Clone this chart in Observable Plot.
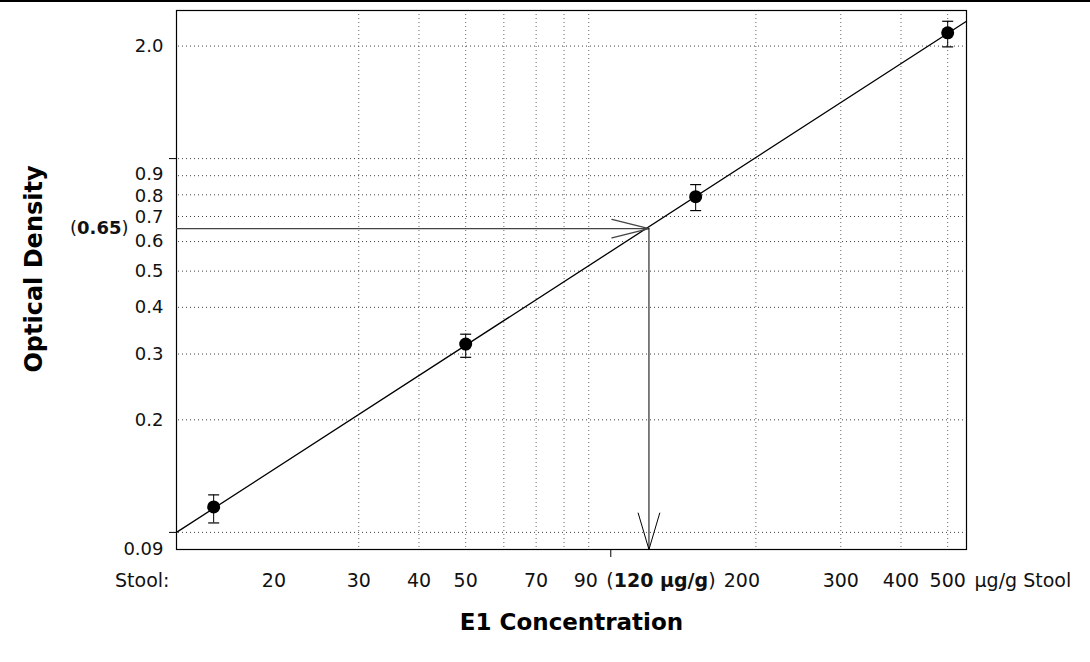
<!DOCTYPE html>
<html>
<head>
<meta charset="utf-8">
<script src="https://cdn.jsdelivr.net/npm/d3@7"></script>
<script src="https://cdn.jsdelivr.net/npm/@observablehq/plot@0.6"></script>
<style>
  html, body { margin: 0; padding: 0; background: #fff; }
  #wrap { position: relative; width: 1090px; height: 662px; overflow: hidden; }
  #topline { position: absolute; left: 0; top: 0; width: 1090px; height: 2px; background: #000; }
</style>
</head>
<body>
<div id="wrap"><div id="topline"></div></div>
<script>
// ---- data ----
const concentration = [15, 50, 150, 500];          // µg/g stool
const density = [0.117, 0.319, 0.791, 2.17];        // optical density
const errLow = [0.106, 0.294, 0.726, 1.99];
const errHigh = [0.126, 0.339, 0.852, 2.33];

const fitX = [12.56, 547];                           // standard-curve line end points
const fitY = [0.1, 2.33];

const sampleOD = 0.65;
const sampleConc = 120;

const xDomain = [12.56, 547];
const yDomain = [0.09, 2.49];

const xGrid = [30, 40, 50, 60, 70, 80, 90, 200, 300, 400, 500];
const yGrid = [0.1, 0.2, 0.3, 0.4, 0.5, 0.6, 0.7, 0.8, 0.9, 1.0, 2.0];

const xTickValues = [20, 30, 40, 50, 70, 90, 120, 200, 300, 400, 500];
const xTickLabels = ["20", "30", "40", "50", "70", "90", "(120 µg/g)", "200", "300", "400", "500"];
const xTickShift  = [0, 0, 0, 0, 0, -3, 12, -14, 0, 0, 0];

const yTickValues = [2.0, 0.9, 0.8, 0.7, 0.6, 0.5, 0.4, 0.3, 0.2, 0.09];
const yTickLabels = ["2.0", "0.9", "0.8", "0.7", "0.6", "0.5", "0.4", "0.3", "0.2", "0.09"];
const yTickNudge  = [0, -1.5, 1.5, 1, 0, 0, 0, 0, 0, 0];

const yMajorTicks = [1.0, 0.1];
const xMajorTicks = [100];

// ---- tables ----
const points = concentration.map((c, i) => ({c, od: density[i], lo: errLow[i], hi: errHigh[i]}));
const fitLine = fitX.map((x, i) => ({x, y: fitY[i]}));
const xLabels = xTickValues.map((v, i) => ({v, label: xTickLabels[i], shift: xTickShift[i]}));
const yLabels = yTickValues.map((v, i) => ({v, label: yTickLabels[i], nudge: yTickNudge[i]}));

const cap = {
  draw(context, size) {
    const r = Math.sqrt(size / Math.PI);
    context.moveTo(-r, 0);
    context.lineTo(r, 0);
  }
};

const font = "'DejaVu Sans', sans-serif";
const fs = 19;
const fsY = 18;

const chart = Plot.plot({
  width: 1090,
  height: 662,
  marginLeft: 176,
  marginRight: 124,
  marginTop: 10,
  marginBottom: 113,
  x: {type: "log", domain: xDomain},
  y: {type: "log", domain: yDomain},
  style: {fontFamily: font, fontSize: fs + "px", color: "#111", background: "transparent", overflow: "visible"},
  marks: [
    Plot.ruleX(xGrid, {stroke: "#666", strokeWidth: 1, strokeDasharray: "1,3"}),
    Plot.ruleY(yGrid, {stroke: "#444", strokeWidth: 1, strokeDasharray: "1,3", dx: 2}),
    Plot.axisY({ticks: yMajorTicks, tickSize: 7, tickFormat: () => "", label: null, stroke: "#000"}),
    Plot.axisX({ticks: xMajorTicks, tickSize: 8, tickFormat: () => "", label: null, stroke: "#000"}),
    Plot.frame({stroke: "#000", strokeWidth: 1.2}),
    Plot.line(fitLine, {x: "x", y: "y", stroke: "#000", strokeWidth: 1.3}),
    Plot.arrow([{x1: xDomain[0], y1: sampleOD, x2: sampleConc, y2: sampleOD}],
      {x1: "x1", y1: "y1", x2: "x2", y2: "y2", stroke: "#444", strokeWidth: 1.3, headLength: 44, headAngle: 28}),
    Plot.arrow([{x1: sampleConc, y1: sampleOD, x2: sampleConc, y2: yDomain[0]}],
      {x1: "x1", y1: "y1", x2: "x2", y2: "y2", stroke: "#000", strokeWidth: 1, headLength: 57, headAngle: 33}),
    Plot.ruleX(points, {x: "c", y1: "lo", y2: "hi", stroke: "#000", strokeWidth: 1}),
    Plot.dot(points, {x: "c", y: "lo", symbol: cap, r: 5.5, stroke: "#000", strokeWidth: 1.2}),
    Plot.dot(points, {x: "c", y: "hi", symbol: cap, r: 5.5, stroke: "#000", strokeWidth: 1.2}),
    Plot.dot(points, {x: "c", y: "od", r: 6.5, fill: "#000", stroke: "none"}),
    // x tick labels
    ...xLabels.map(d => Plot.text([d], {x: "v", frameAnchor: "bottom", textAnchor: "middle", text: "label",
      lineAnchor: "top", dy: 24, dx: d.shift, fontSize: fs, fill: "#111"})),
    Plot.text(["Stool:"], {text: d => d, frameAnchor: "bottom-left", textAnchor: "end", lineAnchor: "top",
      dx: -7, dy: 24, fontSize: fs, fill: "#111"}),
    Plot.text(["µg/g Stool"], {text: d => d, frameAnchor: "bottom-right", textAnchor: "start", lineAnchor: "top",
      dx: 8, dy: 24, fontSize: fs, fill: "#111"}),
    // y tick labels
    ...yLabels.map(d => Plot.text([d], {y: "v", frameAnchor: "left", text: "label", textAnchor: "end", dx: -13,
      dy: d.nudge, fontSize: fsY, fill: "#111"})),
    Plot.text([{v: sampleOD, label: "(0.65)"}], {y: "v", frameAnchor: "left", text: "label", textAnchor: "end",
      dx: -48, fontSize: fsY, fill: "#111"}),
    // axis titles
    Plot.text(["E1 Concentration"], {text: d => d, frameAnchor: "bottom", textAnchor: "middle", lineAnchor: "middle",
      dy: 73, fontSize: 23, fontWeight: "bold", fill: "#000"}),
    Plot.text(["Optical Density"], {text: d => d, frameAnchor: "left", textAnchor: "middle", lineAnchor: "middle",
      rotate: -90, dx: -142, dy: -11, fontSize: 24, fontWeight: "bold", fill: "#000"})
  ]
});

// bold numbers inside parentheses
d3.select(chart).selectAll("text").each(function () {
  const t = this.textContent;
  const m = t.match(/^\((.*)\)$/);
  if (m) {
    const sel = d3.select(this);
    this.textContent = "";
    sel.append("tspan").text("(");
    sel.append("tspan").attr("font-weight", "bold").text(m[1]);
    sel.append("tspan").text(")");
  }
});

document.getElementById("wrap").appendChild(chart);
</script>
</body>
</html>
